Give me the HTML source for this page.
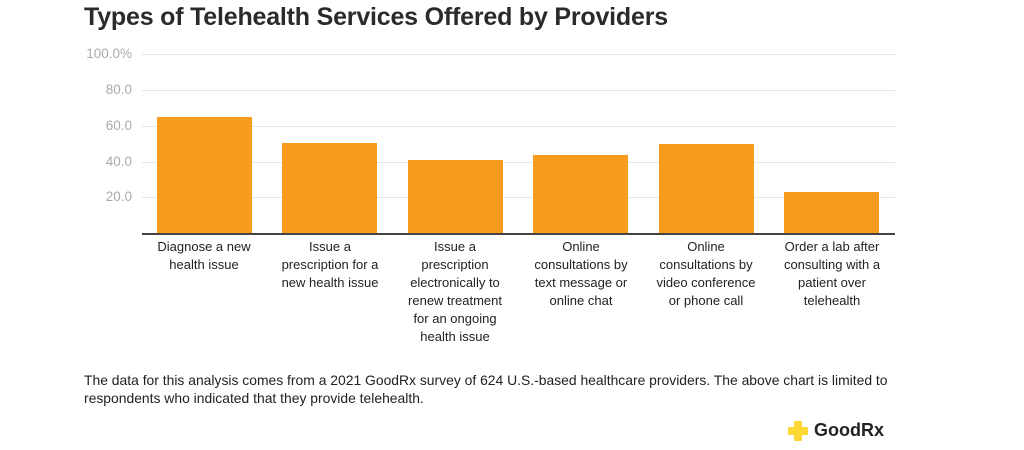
<!DOCTYPE html>
<html><head><style>
body{margin:0;width:1024px;height:450px;background:#fff;font-family:"Liberation Sans",Arial,sans-serif;position:relative;overflow:hidden}
.t{position:absolute;left:84px;top:3px;font-size:25px;font-weight:bold;color:#2b2b2b;letter-spacing:-0.2px}
.g{position:absolute;left:142px;width:753px;height:1px;background:#e6e6e6}
.yl{position:absolute;width:132px;left:0;text-align:right;font-size:13.5px;color:#aaa}
.b{position:absolute;width:95px;background:#f79c1e}
.xl{position:absolute;top:238px;width:102px;text-align:center;font-size:13px;line-height:18px;color:#222}
.n{position:absolute;left:84px;top:371px;font-size:13.9px;line-height:18px;color:#222;white-space:nowrap}
</style></head><body>
<div class="t">Types of Telehealth Services Offered by Providers</div>
<div class="g" style="top:54px"></div><div class="g" style="top:90px"></div><div class="g" style="top:126px"></div><div class="g" style="top:162px"></div><div class="g" style="top:197px"></div>
<div class="yl" style="top:46px">100.0%</div><div class="yl" style="top:82px">80.0</div><div class="yl" style="top:118px">60.0</div><div class="yl" style="top:154px">40.0</div><div class="yl" style="top:189px">20.0</div>
<div class="b" style="left:157px;top:117px;height:116px"></div>
<div class="b" style="left:282px;top:143px;height:90px"></div>
<div class="b" style="left:408px;top:160px;height:73px"></div>
<div class="b" style="left:533px;top:155px;height:78px"></div>
<div class="b" style="left:659px;top:144px;height:89px"></div>
<div class="b" style="left:784px;top:192px;height:41px"></div>
<div style="position:absolute;left:142px;top:233px;width:753px;height:1.5px;background:#444"></div>
<div class="xl" style="left:153px">Diagnose a new health issue</div>
<div class="xl" style="left:279px">Issue a prescription for a new health issue</div>
<div class="xl" style="left:404px">Issue a prescription electronically to renew treatment for an ongoing health issue</div>
<div class="xl" style="left:530px">Online consultations by text message or online chat</div>
<div class="xl" style="left:655px">Online consultations by video conference or phone call</div>
<div class="xl" style="left:781px">Order a lab after consulting with a patient over telehealth</div>
<div class="n">The data for this analysis comes from a 2021 GoodRx survey of 624 U.S.-based healthcare providers. The above chart is limited to<br>respondents who indicated that they provide telehealth.</div>
<svg style="position:absolute;left:787px;top:420px" width="22" height="22" viewBox="0 0 22 22"><path d="M8 2h6v6h6v6h-6v6h-6v-6h-6v-6h6z" fill="#fdd835" stroke="#fdd835" stroke-linejoin="round" stroke-width="2"/></svg>
<div style="position:absolute;left:814px;top:420px;font-size:18px;font-weight:bold;color:#222">GoodRx</div>
</body></html>
